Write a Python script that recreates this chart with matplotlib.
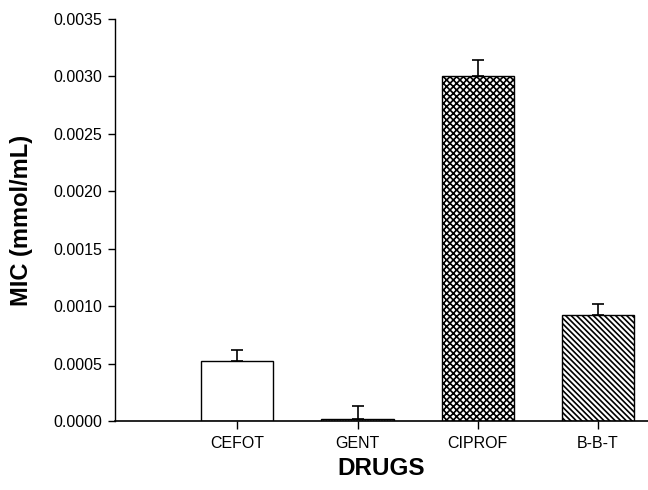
import matplotlib
matplotlib.use("Agg")
import matplotlib.pyplot as plt
import numpy as np

# MIC values
drugs = ["CEFOT", "GENT", "CIPROF", "B-B-T"]
mic = [0.00052, 0.000015, 0.0030, 0.00092]
mic_err = [0.00010, 0.000115, 0.000145, 0.00010]
hatches = ["", "......", "xxxxx", "\\\\\\\\\\\\"]
yticks = [0.0, 0.0005, 0.0010, 0.0015, 0.0020, 0.0025, 0.0030, 0.0035]

plt.rcParams["font.family"] = ["Liberation Sans", "DejaVu Sans"]
plt.rcParams["hatch.linewidth"] = 1.2

fig = plt.figure(figsize=(6.48, 4.90), dpi=100)
ax = fig.add_axes([0.1775, 0.1408, 0.8225, 0.8204])

x = np.arange(1, len(drugs) + 1)
bars = ax.bar(x, mic, width=0.6, color="white", edgecolor="black", linewidth=1.0, zorder=2)
for b, h in zip(bars, hatches):
    b.set_hatch(h)

# one-sided (upper) error bars
ax.errorbar(x, mic, yerr=[np.zeros(len(mic)), mic_err], fmt="none",
            ecolor="black", elinewidth=1.2, capsize=4.3, capthick=1.2, zorder=3)

ax.set_xlim(-0.02, 4.42)
ax.set_ylim(0, 0.0035)
ax.set_xticks(x)
ax.set_xticklabels(drugs)
ax.set_yticks(yticks)
ax.set_yticklabels([f"{v:.4f}" for v in yticks])

for side in ["top", "right"]:
    ax.spines[side].set_visible(False)
ax.spines["left"].set_linewidth(1.0)
ax.spines["bottom"].set_linewidth(1.2)

ax.tick_params(axis="y", direction="out", length=5, width=1.0, labelsize=11.5, pad=4)
ax.tick_params(axis="x", direction="out", length=6, width=1.0, labelsize=11.5, pad=5)

ax.set_ylabel("MIC (mmol/mL)", fontsize=17, fontweight="bold", labelpad=15)
ax.set_xlabel("DRUGS", fontsize=17.5, fontweight="bold", labelpad=4)

plt.savefig("out.png", dpi=100)
plt.close()
